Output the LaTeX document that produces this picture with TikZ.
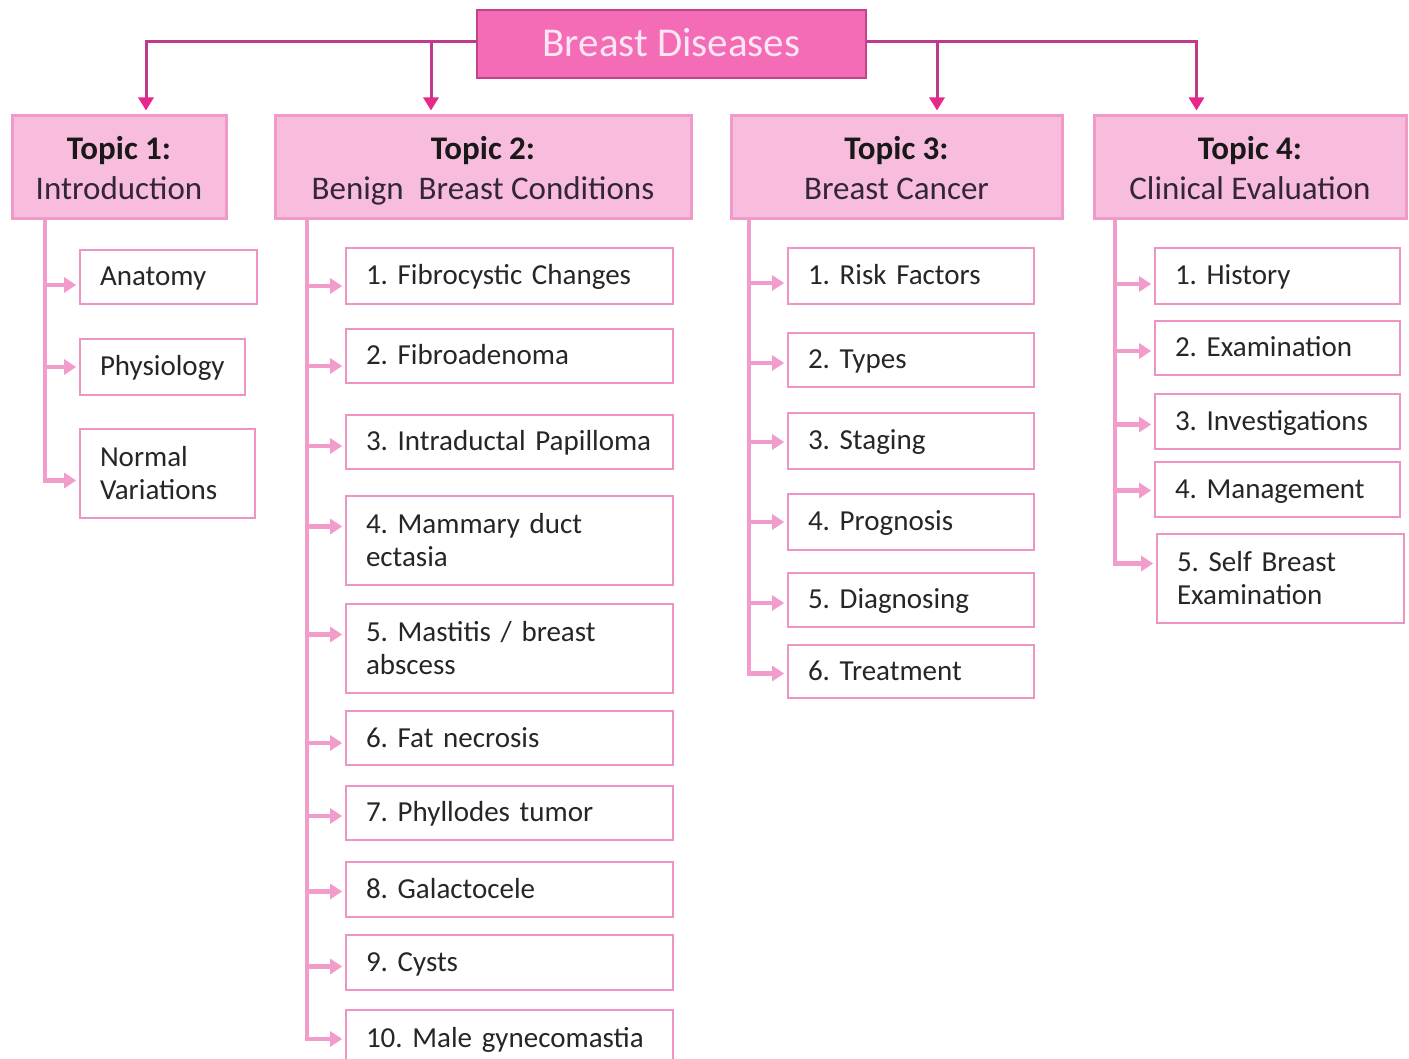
\documentclass[tikz,border=0pt]{standalone}
\usepackage{fontspec}
\setmainfont{Carlito}
\usetikzlibrary{arrows.meta}
\definecolor{rootfill}{HTML}{F46CB6}
\definecolor{rootbord}{HTML}{C2438C}
\definecolor{rootline}{HTML}{C0398A}
\definecolor{roothead}{HTML}{E6288B}
\definecolor{topfill}{HTML}{F8BDDD}
\definecolor{topbord}{HTML}{F19ACA}
\definecolor{kidbord}{HTML}{EE94C5}
\definecolor{trunkc}{HTML}{F29CCB}
\definecolor{txt}{HTML}{262626}
\definecolor{toptxt}{HTML}{33263A}
\definecolor{roottxt}{HTML}{FCE6F2}
\frenchspacing
\hyphenpenalty=10000
\exhyphenpenalty=10000
\tikzset{
  rootbox/.style={draw=rootbord,fill=rootfill,line width=2pt,text=roottxt,
    font=\fontsize{41}{48}\selectfont,inner sep=0pt},
  topbox/.style={draw=topbord,fill=topfill,line width=3pt,align=center,
    font=\fontsize{33}{40}\selectfont,text=toptxt,inner sep=0pt},
  kidbox/.style={draw=kidbord,fill=white,line width=2.6pt,align=left,
    font=\fontsize{29}{33}\selectfont,text=txt,inner xsep=20pt,inner ysep=0pt},
  rootln/.style={draw=rootline,line width=3pt,shorten >=4pt,
    -{Triangle[length=13pt,width=15pt,color=roothead]}},
  brn/.style={draw=trunkc,line width=4.5pt,shorten >=2.5pt,
    -{Triangle[length=12pt,width=15pt,color=trunkc]}}
}
\newcommand\kbox[6]{%
  \pgfmathsetmacro\bxw{#4-#2}\pgfmathsetmacro\bxh{#5-#3}\pgfmathsetmacro\bxt{#4-#2-40}%
  \pgfmathsetmacro\bxx{(#2+#4)/2}\pgfmathsetmacro\bxy{(#3+#5)/2}%
  \node[kidbox,minimum width=\bxw pt,minimum height=\bxh pt,text width=\bxt pt] (#1) at (\bxx,\bxy)
    {\rule{0pt}{22pt}#6\rule[-4pt]{0pt}{4pt}};}
\newcommand\tbox[7]{%
  \pgfmathsetmacro\bxw{#4-#2}\pgfmathsetmacro\bxh{#5-#3}%
  \pgfmathsetmacro\bxx{(#2+#4)/2}\pgfmathsetmacro\bxy{(#3+#5)/2}%
  \node[topbox,minimum width=\bxw pt,minimum height=\bxh pt] (#1) at (\bxx,\bxy)
    {\rule{0pt}{33pt}\textbf{\color{black!90}#6}\\\smash{#7}\rule[-8pt]{0pt}{8pt}};}
\newcommand\branch[3]{%
  \coordinate (#2p) at ([yshift=#3]#2.west);
  \draw[brn] (#1) |- (#2p);}
\begin{document}
\begin{tikzpicture}[x=1pt,y=-1pt]
\useasboundingbox (0,0) rectangle (1409,1059);
% root
\node[rootbox,minimum width=389pt,minimum height=68pt] (root) at (671.5,44) {\rule[-4pt]{0pt}{34pt}Breast Diseases};
% topics
\tbox{t1}{12}{116}{226}{219}{Topic 1:}{Introduction}
\tbox{t2}{275}{116}{691}{219}{Topic 2:}{Benign\ \ Breast Conditions}
\tbox{t3}{731}{116}{1062}{219}{Topic 3:}{Breast Cancer}
\tbox{t4}{1094}{116}{1406}{219}{Topic 4:}{Clinical Evaluation}
% root connectors
\coordinate (rl) at ([yshift=2pt]root.west);
\coordinate (rr) at ([yshift=2pt]root.east);
\coordinate (a1) at ([xshift=27pt]t1.north);
\coordinate (a2) at ([xshift=-52pt]t2.north);
\coordinate (a3) at ([xshift=40.5pt]t3.north);
\coordinate (a4) at ([xshift=-53.5pt]t4.north);
\draw[rootln] (rl) -| (a1);
\draw[rootln] (a2 |- rl) -- (a2);
\draw[rootln] (rr) -| (a4);
\draw[rootln] (a3 |- rr) -- (a3);
% Topic 1 children
\kbox{c11}{80}{250}{257}{304}{Anatomy}
\kbox{c12}{80}{339}{245}{395}{Physiology}
\kbox{c13}{80}{429}{255}{518}{Normal\\Variations}
% Topic 2 children
\kbox{c21}{346}{248}{673}{304}{1. Fibrocystic Changes}
\kbox{c22}{346}{329}{673}{383}{2. Fibroadenoma}
\kbox{c23}{346}{415}{673}{469}{3. Intraductal Papilloma}
\kbox{c24}{346}{496}{673}{585}{4. Mammary duct\\ectasia}
\kbox{c25}{346}{604}{673}{693}{5. Mastitis / breast\\abscess}
\kbox{c26}{346}{711}{673}{765}{6. Fat necrosis}
\kbox{c27}{346}{786}{673}{840}{7. Phyllodes tumor}
\kbox{c28}{346}{862}{673}{917}{8. Galactocele}
\kbox{c29}{346}{935}{673}{990}{9. Cysts}
\kbox{c210}{346}{1010}{673}{1068}{10.\ Male gynecomastia}
% Topic 3 children
\kbox{c31}{788}{248}{1034}{304}{1. Risk Factors}
\kbox{c32}{788}{333}{1034}{387}{2. Types}
\kbox{c33}{788}{413}{1034}{469}{3. Staging}
\kbox{c34}{788}{494}{1034}{550}{4. Prognosis}
\kbox{c35}{788}{573}{1034}{627}{5. Diagnosing}
\kbox{c36}{788}{645}{1034}{698}{6. Treatment}
% Topic 4 children
\kbox{c41}{1155}{248}{1400}{304}{1. History}
\kbox{c42}{1155}{321}{1400}{375}{2. Examination}
\kbox{c43}{1155}{394}{1400}{449}{3. Investigations}
\kbox{c44}{1155}{462}{1400}{517}{4. Management}
\kbox{c45}{1157}{534}{1404}{623}{5. Self Breast\\Examination}
% trunks
\coordinate (x1) at (45,0);
\coordinate (x2) at (307,0);
\coordinate (x3) at (749,0);
\coordinate (x4) at (1115,0);
\coordinate (tr1) at (x1 |- t1.south);
\coordinate (tr2) at (x2 |- t2.south);
\coordinate (tr3) at (x3 |- t3.south);
\coordinate (tr4) at (x4 |- t4.south);
\branch{tr1}{c11}{-8pt}
\branch{tr1}{c12}{0pt}
\branch{tr1}{c13}{-7pt}
\branch{tr2}{c21}{-10pt}
\branch{tr2}{c22}{-10pt}
\branch{tr2}{c23}{-4pt}
\branch{tr2}{c24}{14pt}
\branch{tr2}{c25}{14pt}
\branch{tr2}{c26}{-5pt}
\branch{tr2}{c27}{-3pt}
\branch{tr2}{c28}{-2pt}
\branch{tr2}{c29}{-4pt}
\branch{tr2}{c210}{0pt}
\branch{tr3}{c31}{-7pt}
\branch{tr3}{c32}{-3pt}
\branch{tr3}{c33}{-1pt}
\branch{tr3}{c34}{0pt}
\branch{tr3}{c35}{-3pt}
\branch{tr3}{c36}{-2pt}
\branch{tr4}{c41}{-8pt}
\branch{tr4}{c42}{-3pt}
\branch{tr4}{c43}{-3pt}
\branch{tr4}{c44}{-1pt}
\branch{tr4}{c45}{15pt}
\end{tikzpicture}
\end{document}
